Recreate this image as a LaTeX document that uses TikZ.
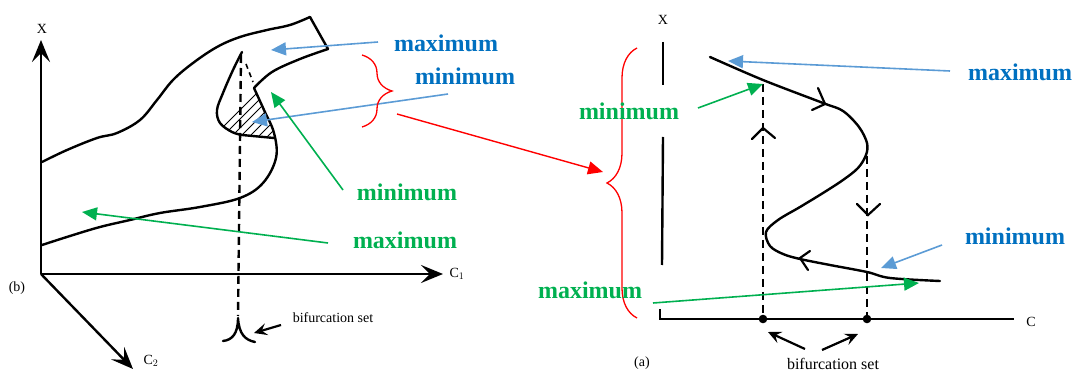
\documentclass[tikz,border=0pt]{standalone}
\usepackage{fontspec}
\setmainfont{Liberation Serif}
\usetikzlibrary{arrows.meta,decorations.pathreplacing}
\definecolor{tblue}{HTML}{0070C0}
\definecolor{ablue}{HTML}{5B9BD5}
\definecolor{tgreen}{HTML}{00B050}
\definecolor{tred}{HTML}{FF0000}
\begin{document}
\begin{tikzpicture}[x=1pt,y=-1pt,
  curve/.style={line width=2.4pt, line cap=round, line join=round},
  axisline/.style={line width=2.4pt},
  dsh/.style={line width=2.4pt, dash pattern=on 8pt off 5pt},
  chev/.style={line width=2.2pt, line cap=round, line join=miter},
  lab/.style={font=\fontsize{24}{28}\selectfont\bfseries, inner sep=0pt, anchor=base},
  bl/.style={lab, text=tblue},
  gl/.style={lab, text=tgreen},
  barrow/.style={ablue, line width=1.6pt, -{Triangle[length=15pt,width=13pt]}},
  garrow/.style={tgreen, line width=1.6pt, -{Triangle[length=15pt,width=13pt]}},
  rarrow/.style={tred, line width=1.4pt, -{Triangle[length=15pt,width=13pt]}},
  bigtip/.style={-{Stealth[length=22pt,width=18pt,inset=9pt]}},
  smalltip/.style={line width=2.2pt, -{Stealth[length=13pt,width=12pt,inset=5pt]}},
  small/.style={font=\fontsize{14}{16}\selectfont, inner sep=0pt},
  smalll/.style={font=\fontsize{16}{18}\selectfont, inner sep=0pt},
  rbrace/.style={tred, line width=1.3pt, decorate, decoration={brace, amplitude=30pt}}
]
\useasboundingbox (0,0) rectangle (1074,371);

% ================= LEFT DIAGRAM (b) =================
\coordinate (O) at (41,274);
\coordinate (Xtop) at (41,40);
\coordinate (C1end) at (443,274);
\coordinate (C2end) at (133,369);
\draw[axisline, bigtip] (O) -- (Xtop);
\draw[axisline, bigtip] (O) -- (C1end);
\draw[axisline, bigtip] (O) -- (C2end);
\node[small] (lX) at (42,29) {X};
\node[small] (lC1) at (457,274) {C$_1$};
\node[small] (lC2) at (151,361) {C$_2$};
\node[small] (lb) at (17,288) {(b)};

% hatch
\begin{scope}
  \clip (254,88) -- (264,110) -- (272,126) -- (274,137) -- (240,135) -- (228,131) -- (218,119) -- (218,110) -- cycle;
  \foreach \k in {0,...,14} \draw[line width=1pt] (180+\k*9,170) -- ++(100,-100);
\end{scope}

% surface outline
\draw[curve] plot[smooth, tension=0.6] coordinates {(42,245) (70,236) (100,227) (130,220) (160,213) (200,207) (240,198) (263,183) (276,158) (274,133) (264,110) (254,88)};
\draw[curve] plot[smooth, tension=0.6] coordinates {(254,88) (272,72) (300,59) (328,49)};
\draw[curve] plot[smooth, tension=0.6] coordinates {(42,162) (67,150) (97,138) (117,133) (140,120) (157,100) (173,80) (193,63) (217,47) (240,37) (267,30) (290,25) (310,17)};
\draw[curve] (310,17) -- (328,49);
\draw[curve] plot[smooth, tension=0.6] coordinates {(242,52) (233,70) (223,93) (217,110) (220,123) (232,132) (242,135)} -- (274,138);

% dashed bifurcation line and cusp
\draw[dsh] (241,55) -- (238,316);
\draw[line width=1.6pt, dash pattern=on 5pt off 4pt] (246,64) -- (253,82);
\coordinate (cusp) at (238,318);
\draw[curve] (223,341) .. controls (232,340) and (238,334) .. (cusp) .. controls (239,334) and (245,340) .. (255,342);
\node[small] (bifL) at (333,318) {bifurcation set};
\coordinate (bifLs) at (281,325);
\coordinate (bifLt) at (254,333);
\draw[smalltip] (bifLs) -- (bifLt);

% left labels
\node[bl] (Lmaxb) at (446,52) {maximum};
\node[bl] (Lminb) at (465,85) {minimum};
\node[gl] (Lming) at (407,201) {minimum};
\node[gl] (Lmaxg) at (405,249) {maximum};
\coordinate (a1s) at (378,42);  \coordinate (a1t) at (271,50);
\coordinate (a2s) at (448,94);  \coordinate (a2t) at (252,122);
\coordinate (a3s) at (343,190); \coordinate (a3t) at (271,92);
\coordinate (a4s) at (328,243); \coordinate (a4t) at (82,212);
\draw[barrow] (a1s) -- (a1t);
\draw[barrow] (a2s) -- (a2t);
\draw[garrow] (a3s) -- (a3t);
\draw[garrow] (a4s) -- (a4t);

% red braces and arrow
\coordinate (br1a) at (362,55);
\coordinate (br1b) at (362,127);
\draw[rbrace] (br1a) -- (br1b);
\coordinate (br2a) at (637,318);
\coordinate (br2b) at (637,48);
\draw[rbrace] (br2a) -- (br2b);
\coordinate (rs) at (397,114);
\coordinate (rt) at (603,172);
\draw[rarrow] (rs) -- (rt);

% ================= RIGHT DIAGRAM (a) =================
\node[small] (rX) at (663,20) {X};
\draw[axisline] (663,42) -- (663,85);
\draw[axisline] (663,137) -- (662,265);
\coordinate (O2) at (660,319);
\coordinate (Cend) at (1014,319);
\draw[axisline] (660,309) -- (O2) -- (Cend);
\node[small] (lC) at (1031,322) {C};
\node[small] (la) at (642,363) {(a)};

% S-curve
\draw[curve] plot[smooth, tension=0.55] coordinates {(710,57) (763,80) (823,103) (843,111) (859,127) (867,143) (866,155) (858,168) (843,180) (823,193) (800,207) (778,220) (766,232) (770,246) (783,254) (800,259) (830,265) (867,272) (890,278) (940,281)};
% chevrons on curve
\draw[chev] (818,88) -- (825,104) -- (812,110);
\draw[chev] (810,251) -- (800,258) -- (808,270);

% dashed lines
\coordinate (d1) at (763,319);
\coordinate (d2) at (867,319);
\draw[dsh] (763,84) -- (d1);
\draw[dsh] (867,143) -- (d2);
\draw[chev] (752,139) -- (763,128) -- (775,138);
\draw[chev] (857,204) -- (868,215) -- (880,204);
\fill (d1) circle (4.3pt);
\fill (d2) circle (4.3pt);

% bifurcation arrows
\node[smalll] (bifR) at (833,364) {bifurcation set};
\coordinate (b1s) at (805,349); \coordinate (b1t) at (768,332);
\coordinate (b2s) at (822,350); \coordinate (b2t) at (858,334);
\draw[smalltip] (b1s) -- (b1t);
\draw[smalltip] (b2s) -- (b2t);

% right labels
\node[gl] (Rming) at (629,120) {minimum};
\node[bl] (Rmaxb) at (1020,81) {maximum};
\node[bl] (Rminb) at (1015,245) {minimum};
\node[gl] (Rmaxg) at (590,299) {maximum};
\coordinate (a5s) at (698,108); \coordinate (a5t) at (763,84);
\coordinate (a6s) at (950,71);  \coordinate (a6t) at (728,61);
\coordinate (a7s) at (942,245); \coordinate (a7t) at (881,268);
\coordinate (a8s) at (653,303); \coordinate (a8t) at (919,283);
\draw[garrow] (a5s) -- (a5t);
\draw[barrow] (a6s) -- (a6t);
\draw[barrow] (a7s) -- (a7t);
\draw[garrow] (a8s) -- (a8t);
\end{tikzpicture}
\end{document}
